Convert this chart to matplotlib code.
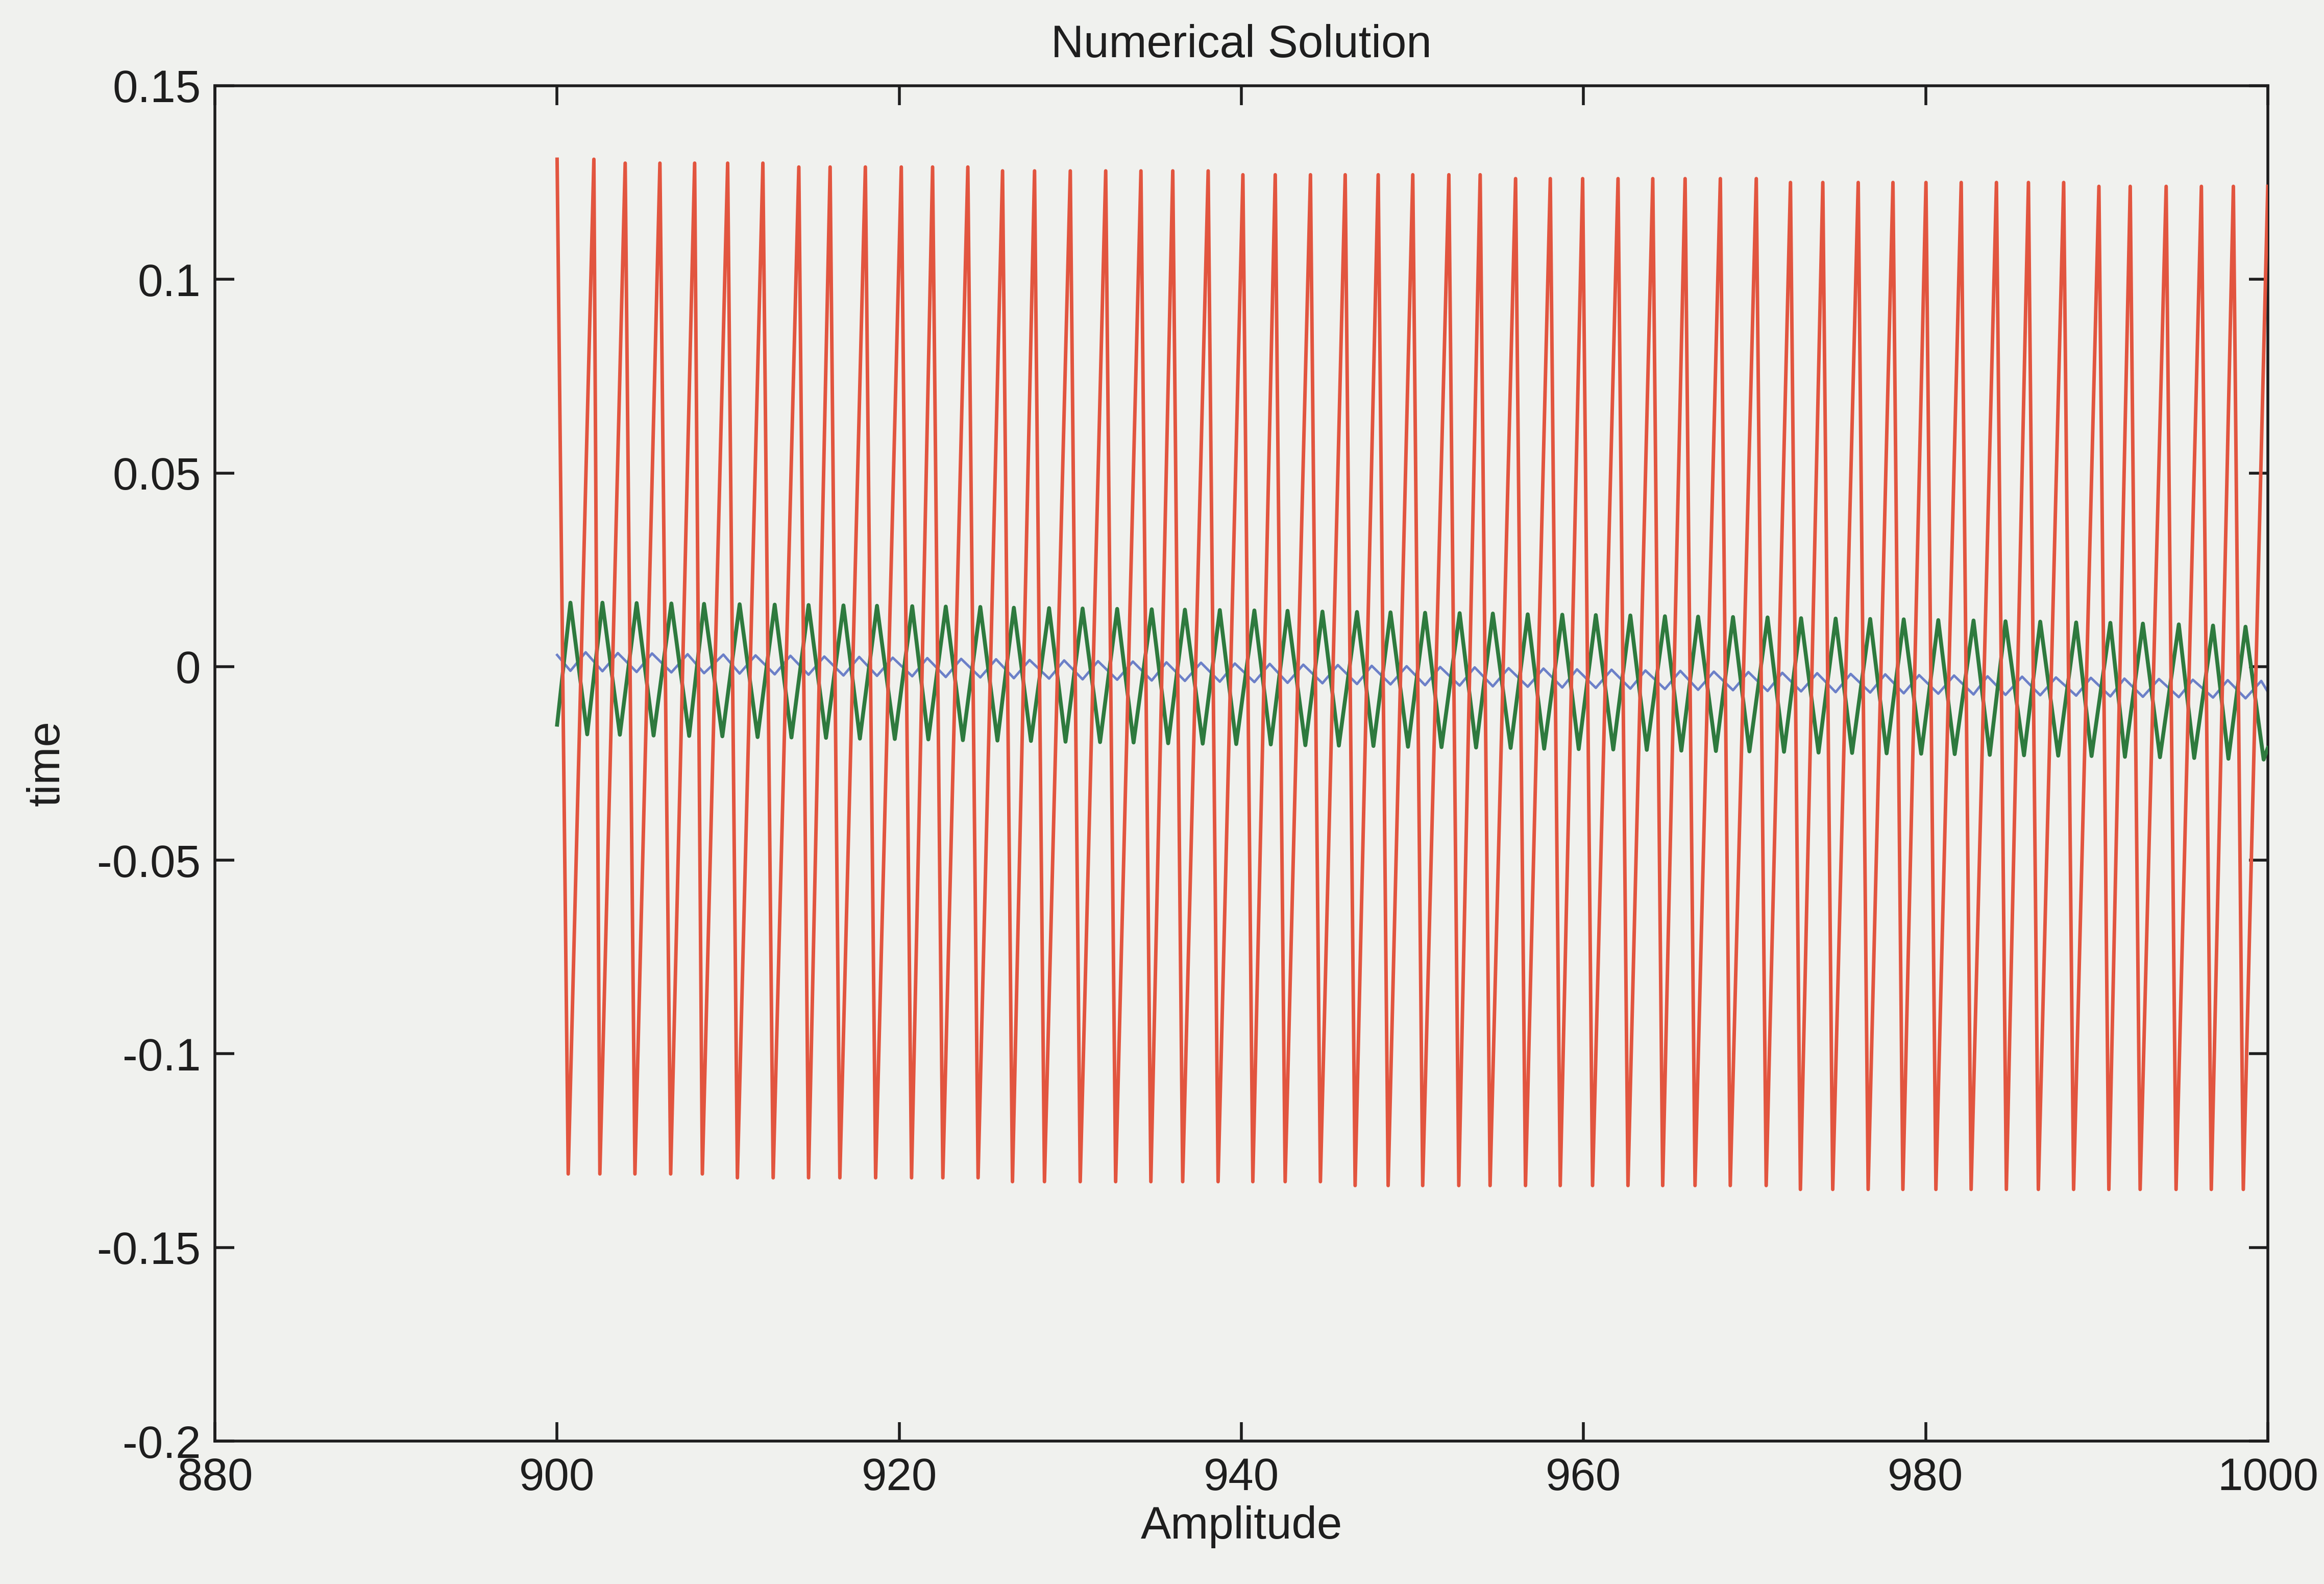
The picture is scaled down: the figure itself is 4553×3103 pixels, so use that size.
import numpy as np
import matplotlib
matplotlib.use("Agg")
import matplotlib.pyplot as plt

plt.rcParams['font.family'] = ['Liberation Sans', 'DejaVu Sans']

# ---------------- data ----------------
# red series: positions/values of upper tips and lower tips
red_top_x = [900.00, 902.15, 903.98, 906.01, 908.04, 909.97, 912.03, 914.13, 915.96, 918.02,
             920.12, 921.95, 924.01, 926.04, 927.91, 930.00, 932.07, 934.13, 935.99, 938.06,
             940.09, 941.98, 944.04, 946.07, 948.00, 950.02, 952.13, 953.96, 956.03, 958.06,
             959.95, 962.02, 964.05, 965.94, 968.00, 970.10, 972.10, 973.99, 976.06, 978.09,
             980.02, 982.08, 984.14, 986.01, 988.07, 990.13, 991.96, 994.06, 996.12, 997.99,
             1000.00]
red_top_y = [0.131, 0.131, 0.130, 0.130, 0.130, 0.130, 0.130, 0.129, 0.129, 0.129,
             0.129, 0.129, 0.129, 0.128, 0.128, 0.128, 0.128, 0.128, 0.128, 0.128,
             0.127, 0.127, 0.127, 0.127, 0.127, 0.127, 0.127, 0.127, 0.126, 0.126,
             0.126, 0.126, 0.126, 0.126, 0.126, 0.126, 0.125, 0.125, 0.125, 0.125,
             0.125, 0.125, 0.125, 0.125, 0.125, 0.124, 0.124, 0.124, 0.124, 0.124,
             0.124]
red_bot_x = [900.65, 902.50, 904.55, 906.64, 908.49, 910.54, 912.63, 914.70, 916.53, 918.62,
             920.72, 922.55, 924.61, 926.62, 928.49, 930.58, 932.65, 934.71, 936.57, 938.64,
             940.67, 942.56, 944.62, 946.65, 948.58, 950.60, 952.71, 954.54, 956.61, 958.64,
             960.53, 962.60, 964.63, 966.52, 968.58, 970.68, 972.68, 974.57, 976.64, 978.67,
             980.60, 982.66, 984.72, 986.59, 988.65, 990.71, 992.54, 994.64, 996.70, 998.57]
red_bot_y = [-0.131, -0.131, -0.131, -0.131, -0.131, -0.132, -0.132, -0.132, -0.132, -0.132,
             -0.132, -0.132, -0.132, -0.133, -0.133, -0.133, -0.133, -0.133, -0.133, -0.133,
             -0.133, -0.133, -0.133, -0.134, -0.134, -0.134, -0.134, -0.134, -0.134, -0.134,
             -0.134, -0.134, -0.134, -0.134, -0.134, -0.134, -0.135, -0.135, -0.135, -0.135,
             -0.135, -0.135, -0.135, -0.135, -0.135, -0.135, -0.135, -0.135, -0.135, -0.135]

# green series: start, crests, troughs, end
green_start = (900.0, -0.015)
green_end = (1000.0, -0.021)
green_peak_x = [900.78, 902.65, 904.65, 906.68, 908.59, 910.67, 912.72, 914.70, 916.74, 918.70,
                920.76, 922.72, 924.74, 926.70, 928.76, 930.72, 932.74, 934.76, 936.70, 938.74,
                940.76, 942.70, 944.74, 946.76, 948.72, 950.74, 952.76, 954.70, 956.74, 958.76,
                960.72, 962.74, 964.76, 966.70, 968.74, 970.76, 972.72, 974.74, 976.76, 978.72,
                980.74, 982.80, 984.67, 986.70, 988.80, 990.80, 992.70, 994.80, 996.80, 998.70]
green_peak_y = [0.0165, 0.0165, 0.0164, 0.0163, 0.0162, 0.0161, 0.0160, 0.0159, 0.0158, 0.0157,
                0.0156, 0.0155, 0.0154, 0.0152, 0.0151, 0.0150, 0.0149, 0.0148, 0.0147, 0.0146,
                0.0145, 0.0144, 0.0142, 0.0141, 0.0140, 0.0139, 0.0138, 0.0137, 0.0135, 0.0134,
                0.0133, 0.0132, 0.0130, 0.0129, 0.0128, 0.0127, 0.0125, 0.0124, 0.0123, 0.0122,
                0.0120, 0.0119, 0.0117, 0.0116, 0.0114, 0.0113, 0.0111, 0.0109, 0.0106, 0.0103]
green_trough_x = [901.76, 903.67, 905.64, 907.72, 909.66, 911.72, 913.70, 915.72, 917.70, 919.74,
                  921.70, 923.72, 925.74, 927.70, 929.72, 931.74, 933.70, 935.72, 937.74, 939.70,
                  941.72, 943.74, 945.70, 947.72, 949.74, 951.70, 953.72, 955.74, 957.70, 959.72,
                  961.74, 963.70, 965.72, 967.74, 969.70, 971.72, 973.74, 975.70, 977.72, 979.74,
                  981.70, 983.75, 985.75, 987.75, 989.70, 991.65, 993.70, 995.70, 997.70, 999.76]
green_trough_y = [-0.0175, -0.0176, -0.0178, -0.0179, -0.0180, -0.0182, -0.0183, -0.0184, -0.0186, -0.0187,
                  -0.0188, -0.0190, -0.0191, -0.0192, -0.0194, -0.0195, -0.0196, -0.0198, -0.0199, -0.0200,
                  -0.0201, -0.0203, -0.0204, -0.0205, -0.0207, -0.0208, -0.0209, -0.0210, -0.0212, -0.0213,
                  -0.0214, -0.0215, -0.0217, -0.0218, -0.0219, -0.0220, -0.0222, -0.0223, -0.0224, -0.0225,
                  -0.0226, -0.0228, -0.0229, -0.0230, -0.0231, -0.0233, -0.0234, -0.0236, -0.0238, -0.0240]

# blue series: start, troughs (aligned with green crests), crests, end
blue_start = (900.0, 0.0030)
blue_end = (1000.0, -0.0065)
blue_trough_x = green_peak_x
blue_trough_y = [-0.0011, -0.0012, -0.0014, -0.0015, -0.0017, -0.0018, -0.0020, -0.0021, -0.0023, -0.0024,
                 -0.0025, -0.0027, -0.0028, -0.0030, -0.0031, -0.0033, -0.0034, -0.0036, -0.0037, -0.0039,
                 -0.0040, -0.0042, -0.0043, -0.0045, -0.0046, -0.0048, -0.0049, -0.0051, -0.0052, -0.0054,
                 -0.0055, -0.0057, -0.0058, -0.0060, -0.0061, -0.0063, -0.0064, -0.0066, -0.0067, -0.0069,
                 -0.0070, -0.0072, -0.0073, -0.0074, -0.0075, -0.0077, -0.0078, -0.0079, -0.0080, -0.0082]
blue_peak_x = [901.67, 903.55, 905.55, 907.63, 909.72, 911.60, 913.64, 915.62, 917.66, 919.62,
               921.64, 923.62, 925.66, 927.62, 929.64, 931.62, 933.66, 935.62, 937.64, 939.62,
               941.66, 943.62, 945.64, 947.62, 949.66, 951.62, 953.64, 955.62, 957.66, 959.62,
               961.64, 963.62, 965.66, 967.62, 969.64, 971.62, 973.66, 975.62, 977.64, 979.62,
               981.66, 983.62, 985.64, 987.62, 989.66, 991.62, 993.64, 995.62, 997.66, 999.62]
blue_peak_y = [0.0037, 0.0035, 0.0034, 0.0032, 0.0031, 0.0029, 0.0028, 0.0026, 0.0025, 0.0023,
               0.0022, 0.0020, 0.0019, 0.0017, 0.0016, 0.0014, 0.0013, 0.0011, 0.0010, 0.0008,
               0.0007, 0.0005, 0.0004, 0.0002, 0.0001, -0.0001, -0.0002, -0.0004, -0.0005, -0.0007,
               -0.0008, -0.0010, -0.0011, -0.0013, -0.0014, -0.0016, -0.0017, -0.0019, -0.0020, -0.0022,
               -0.0023, -0.0025, -0.0026, -0.0028, -0.0029, -0.0031, -0.0032, -0.0034, -0.0035, -0.0037]

x_ticks = [880, 900, 920, 940, 960, 980, 1000]
y_ticks = [-0.2, -0.15, -0.1, -0.05, 0, 0.05, 0.1, 0.15]
y_tick_labels = ['-0.2', '-0.15', '-0.1', '-0.05', '0', '0.05', '0.1', '0.15']
title_text = 'Numerical Solution'
x_label = 'Amplitude'
y_label = 'time'

# ---------------- build series ----------------
def interleave(ax_, ay_, bx_, by_):
    xs, ys = [], []
    for i in range(len(ax_)):
        xs.append(ax_[i]); ys.append(ay_[i])
        if i < len(bx_):
            xs.append(bx_[i]); ys.append(by_[i])
    return xs, ys

rx, ry = interleave(red_top_x, red_top_y, red_bot_x, red_bot_y)
gx, gy = interleave(green_peak_x, green_peak_y, green_trough_x, green_trough_y)
gx = [green_start[0]] + gx + [green_end[0]]
gy = [green_start[1]] + gy + [green_end[1]]
bx, by = interleave(blue_trough_x, blue_trough_y, blue_peak_x, blue_peak_y)
bx = [blue_start[0]] + bx + [blue_end[0]]
by = [blue_start[1]] + by + [blue_end[1]]

# ---------------- figure ----------------
bg = '#F0F1EE'
fig = plt.figure(figsize=(45.53, 31.03), dpi=100, facecolor=bg)
ax = fig.add_axes([0.0925, 0.0902, 0.8833, 0.8557])
ax.set_facecolor(bg)

ax.plot(bx, by, color='#6C80C8', lw=3.5, zorder=2)
ax.plot(gx, gy, color='#2E7A3E', lw=5.5, zorder=3)
ax.plot(rx, ry, color='#E2553F', lw=5.0, zorder=4)

ax.set_xlim(880, 1000)
ax.set_ylim(-0.2, 0.15)
ax.set_xticks(x_ticks)
ax.set_xticklabels([str(v) for v in x_ticks])
ax.set_yticks(y_ticks)
ax.set_yticklabels(y_tick_labels)

tc = '#1E1E1E'
for s in ax.spines.values():
    s.set_linewidth(4.0)
    s.set_color(tc)
ax.tick_params(axis='both', which='major', direction='in', length=27, width=4.0,
               colors=tc, labelsize=64, top=True, right=True)
ax.tick_params(axis='x', pad=22)
ax.tick_params(axis='y', pad=20)

ax.set_title(title_text, fontsize=64, color=tc, pad=40)
ax.set_xlabel(x_label, fontsize=64, color=tc, labelpad=8)
ax.set_ylabel(y_label, fontsize=64, color=tc, labelpad=40)

fig.savefig('out.png', dpi=100, facecolor=bg)
